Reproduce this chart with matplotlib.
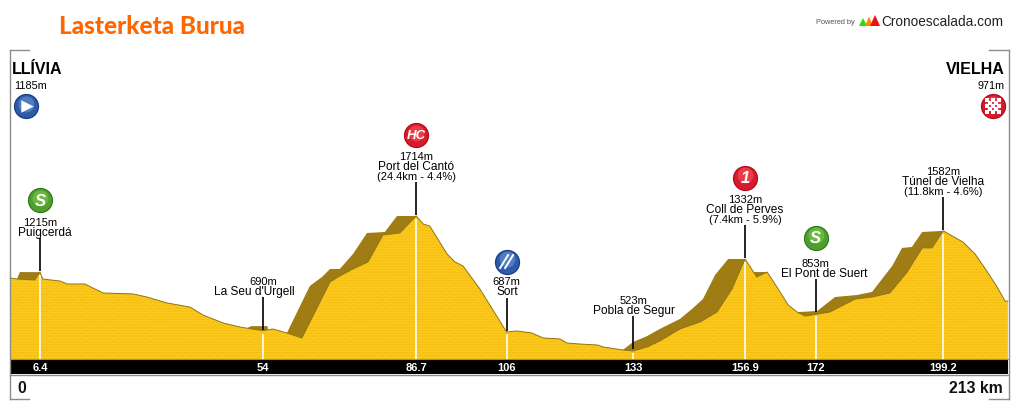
#!/usr/bin/env python3
"""Perfil de etapa: Lasterketa Burua, Llívia - Vielha."""
import matplotlib
matplotlib.use("Agg")
import matplotlib.pyplot as plt
import numpy as np
from matplotlib.patches import Polygon

plt.rcParams["font.family"] = ["Liberation Sans", "DejaVu Sans"]
plt.rcParams["hatch.linewidth"] = 0.5

W, H = 1018, 410
KM_PER_PX = 1 / 4.685
M_PER_PX = 8.889
BASE = 443
BAND_BOTTOM = 310

# road surface
road_km = [0, 1.5, 5.3, 6.4, 7.0, 10.7, 12.2, 16.0, 17.7, 19.9, 26.3, 29.2, 33.5, 38.4, 41.2,
           45.5, 49.1, 54, 56.1, 59.1, 62.3, 68.3, 70.4, 73.2, 76.4, 79.6, 83.2, 86.7,
           88.2, 89.6, 93.3, 95.0, 96.7, 100.3, 106, 108.2, 111.4, 113.8, 117.4, 118.9,
           121.7, 125.5, 126.6, 130.8, 133, 136, 138.7, 143, 147.3, 150.9, 154.1, 156.9,
           159.4, 161.6, 163.7, 166.1, 168, 169.7, 172, 175, 180.4, 184, 187.8, 191.5,
           194.7, 196.8, 199.2, 203.4, 206, 208.5, 210.7, 212.4, 213]
road_m = [1163, 1154, 1145, 1215, 1154, 1136, 1110, 1110, 1074, 1030, 1021, 994, 941, 905, 834,
          763, 727, 695, 710, 674, 630, 1127, 1181, 1243, 1305, 1545, 1563, 1714,
          1643, 1625, 1376, 1305, 1270, 1065, 683, 692, 674, 630, 621, 585,
          576, 567, 550, 523, 514, 550, 603, 710, 772, 861, 1065, 1332,
          1172, 1216, 1083, 923, 861, 825, 840, 861, 976, 994, 1030, 1216,
          1430, 1430, 1582, 1483, 1376, 1225, 1083, 958, 958]

# upper edge of the dark face behind the road, one piece per climb
wall1_km = [1.5, 2.1, 6.4]
wall1_m = [1154, 1216, 1215]
wall2_km = [59.1, 64, 66.6, 68.3, 70.4, 73.2, 76.2, 80, 82.6, 86.7]
wall2_m = [674, 1092, 1172, 1243, 1243, 1376, 1563, 1572, 1714, 1714]
wall3_km = [130.8, 133, 136, 138.7, 143, 145.8, 147.9, 150.5, 153.3, 156.9]
wall3_m = [523, 594, 647, 710, 799, 896, 976, 1190, 1332, 1332]
wall4_km = [158.6, 159, 161.6]
wall4_m = [1216, 1216, 1216]
wall5_km = [168, 168.6, 172.3, 176.1, 180.8, 184, 188.3, 190.4, 192.5, 194.7, 199.2]
wall5_m = [861, 861, 870, 994, 1012, 1039, 1270, 1430, 1439, 1572, 1582]
wall6_km = [50.8, 51.5, 55]
wall6_m = [722, 735, 735]

# summits and towns
point_km = [6.4, 54, 86.7, 106, 133, 156.9, 172, 199.2]
point_m = [1215, 690, 1714, 687, 523, 1332, 853, 1582]
point_tick = ["6.4", "54", "86.7", "106", "133", "156.9", "172", "199.2"]
point_name = ["Puigcerdá", "La Seu d'Urgell", "Port del Cantó", "Sort",
              "Pobla de Segur", "Coll de Perves", "El Pont de Suert", "Túnel de Vielha"]
point_climb = [None, None, "(24.4km - 4.4%)", None, None, "(7.4km - 5.9%)", None, "(11.8km - 4.6%)"]
point_icon = ["S", None, "HC", "food", None, "1", "S", None]
name_shift = [5, -9, 0, 1, 1, 0, 8, 0]
icon_lift = [72, 0, 81, 70, 0, 81, 75, 0]

start_name, start_m = "LLÍVIA", 1185
finish_name, finish_m = "VIELHA", 971
total_km = 213

GREEN = ["#2c7a1c", "#4f9e2e", "#79bf4c"]
RED = ["#b00a1e", "#d81a2c", "#ee4a50"]
BLUE = ["#1a3a86", "#2f5aa8", "#5c8acb"]
ICON_COLORS = {"S": GREEN, "HC": RED, "1": RED, "food": BLUE}


def py(y):
    """Fila de píxel a metros."""
    return 523 + (351 - y) * M_PER_PX


fig = plt.figure(figsize=(W / 100, H / 100), dpi=100, facecolor="white")
ax = fig.add_axes([0, 0, 1, 1])
ax.set_xlim(-10 * KM_PER_PX, 1008 * KM_PER_PX)
ax.set_ylim(py(H), py(0))
ax.axis("off")


def icon(km, m, colors):
    ax.scatter(km, m, s=330, color=colors[0], linewidths=0, zorder=6)
    ax.scatter(km, m, s=270, color=colors[1], linewidths=0, zorder=6)
    ax.scatter(km, m + 2.5 * M_PER_PX, s=130, color=colors[2], linewidths=0, alpha=0.75, zorder=6)


# frame
for x0, x1 in [(9.5, 29), (1008.5, 989)]:
    for y in [50.5, 399.5]:
        fig.add_artist(plt.Line2D([x0 / W, x1 / W], [1 - y / H, 1 - y / H], color="#8c8c8c", lw=1))
    fig.add_artist(plt.Line2D([x0 / W, x0 / W], [1 - 50.5 / H, 1 - 399.5 / H], color="#8c8c8c", lw=1))

# profile
road_x, road_y = np.array(road_km), np.array(road_m)
for top_km, top_m in [(wall1_km, wall1_m), (wall2_km, wall2_m), (wall3_km, wall3_m),
                      (wall4_km, wall4_m), (wall5_km, wall5_m), (wall6_km, wall6_m)]:
    # lower edge runs under the road so no gap is left
    inside = (road_x >= top_km[0]) & (road_x <= top_km[-1])
    low_x = [top_km[-1]] + road_x[inside][::-1].tolist() + [top_km[0]]
    low_y = [np.interp(v, road_x, road_y) - 40 for v in low_x]
    ax.fill(top_km + low_x, top_m + low_y, color="#a07c14", lw=0, zorder=1)
ax.fill(road_km + [213, 0], road_m + [BASE, BASE], color="#fcc81a", lw=0, zorder=2)
ax.fill(road_km + [213, 0], road_m + [BASE, BASE], facecolor="none", edgecolor="#eab414",
        hatch="......", lw=0, zorder=2)
ax.plot(road_km, road_m, color="#8f7418", lw=0.7, zorder=3)

# band
ax.fill_between([0, total_km], BAND_BOTTOM, BASE, color="black", lw=0, zorder=3)
ax.plot([0, total_km], [BAND_BOTTOM - 5, BAND_BOTTOM - 5], color="#8c8c8c", lw=1, zorder=3)
ax.plot([0, total_km], [BASE, BASE], color="#b8930f", lw=0.8, zorder=3)

for i, km in enumerate(point_km):
    m = point_m[i]
    ax.vlines(km, BASE, m - 25, color="white", lw=1.2, zorder=4)
    ax.vlines(km, m + 8, m + 300, color="black", lw=1.2, zorder=4)
    ax.text(km, BASE - 8.5 * M_PER_PX, point_tick[i], color="white", fontsize=8, fontweight="bold",
            ha="center", va="center", zorder=5)

    # label lines stacked upwards from the stem
    up = 6.5
    if point_climb[i]:
        ax.annotate(point_climb[i], (km, m + 300), xytext=(0, up), textcoords="offset pixels",
                    ha="center", va="center", fontsize=8, zorder=5)
        up += 10
    ax.annotate(point_name[i], (km, m + 300), xytext=(name_shift[i], up), textcoords="offset pixels",
                ha="center", va="center", fontsize=8.6, zorder=5)
    up += 10
    ax.annotate(f"{m}m", (km, m + 300), xytext=(0, up), textcoords="offset pixels",
                ha="center", va="center", fontsize=8, zorder=5)

    kind = point_icon[i]
    if kind is None:
        continue
    y = m + icon_lift[i] * M_PER_PX
    icon(km, y, ICON_COLORS[kind])
    if kind == "food":
        for dx in (-2.5, 2.5):
            ax.plot([km + (dx - 4) * KM_PER_PX, km + (dx + 4) * KM_PER_PX],
                    [y - 6.5 * M_PER_PX, y + 6.5 * M_PER_PX], color="white", lw=1.4, zorder=7)
    else:
        ax.text(km, y, kind, color="white", fontsize=12 if kind != "HC" else 9.5, fontweight="bold",
                style="italic", ha="center", va="center", zorder=7)

# start and finish
ax.text(0.5, py(69), start_name, fontsize=11.5, fontweight="bold", va="center")
ax.text(0.8, py(86), f"{start_m}m", fontsize=7.8, va="center")
ax.text(total_km - 0.8, py(69), finish_name, fontsize=11.5, fontweight="bold", va="center", ha="right")
ax.text(total_km - 0.8, py(86), f"{finish_m}m", fontsize=7.8, va="center", ha="right")

start_x, flag_x = 15.5 * KM_PER_PX, total_km - 15 * KM_PER_PX
icon_y = py(107)
icon(start_x, icon_y, BLUE)
ax.scatter(start_x + KM_PER_PX, icon_y, marker=">", s=80, color="white", linewidths=0, zorder=7)
icon(flag_x, icon_y, RED)
for i in range(-2, 3):
    for j in range(-2, 3):
        if (i + j) % 2 == 0:
            ax.scatter(flag_x + i * 3 * KM_PER_PX, icon_y + j * 3 * M_PER_PX, marker="s", s=6,
                       color="white", linewidths=0, zorder=7)

ax.text(12 * KM_PER_PX, py(389), "0", fontsize=11.4, fontweight="bold", ha="center", va="center", color="#111")
ax.text(total_km - 5 * KM_PER_PX, py(389), f"{total_km} km", fontsize=11.4, fontweight="bold",
        ha="right", va="center", color="#111")

# header
fig.text(59 / W, 1 - 27 / H, "Lasterketa Burua", fontsize=17.5, color="#ff6600", family="Lato",
         fontweight="black", va="center")
fig.text(816 / W, 1 - 23 / H, "Powered by", fontsize=5.3, color="#555555", va="center")
fig.text(881 / W, 1 - 22 / H, "Cronoescalada.com", fontsize=9.85, color="#222222", va="center")
for x, width, color, top in [(859, 8, "#22dd11", 19), (865, 8, "#ff8800", 17.5), (870, 10, "#ee1111", 16)]:
    tri = [(x / W, 1 - 27 / H), ((x + width / 2) / W, 1 - top / H), ((x + width) / W, 1 - 27 / H)]
    fig.add_artist(Polygon(tri, closed=True, color=color, lw=0, transform=fig.transFigure))

plt.savefig("out.png", dpi=100, facecolor="white")
